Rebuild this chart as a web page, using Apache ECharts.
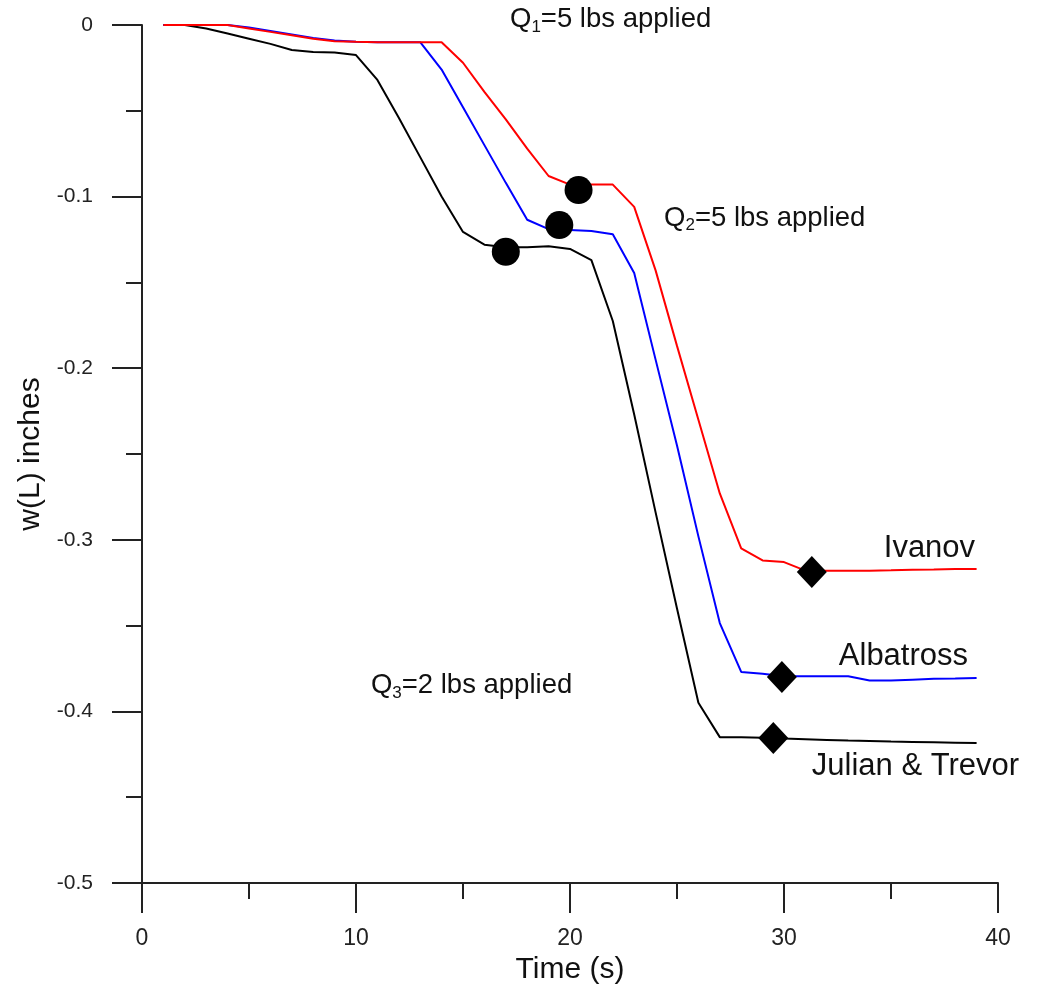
<!DOCTYPE html>
<html>
<head>
<meta charset="utf-8">
<script src="https://cdn.jsdelivr.net/npm/echarts@6/dist/echarts.min.js"></script>
<style>
  html, body { margin: 0; padding: 0; background: #fff; }
  #chart { width: 1051px; height: 992px; }
</style>
</head>
<body>
<div id="chart"></div>
<script>
// time in seconds
const time = [1, 2, 3, 4, 5, 6, 7, 8, 9, 10, 11, 12, 13, 14, 15, 16, 17, 18, 19, 20,
  21, 22, 23, 24, 25, 26, 27, 28, 29, 30, 31, 32, 33, 34, 35, 36, 37, 38, 39];

// deflection w(L) in inches
const ivanov = [0, 0, 0, 0, -0.002, -0.004, -0.006, -0.008, -0.0095, -0.0098,
  -0.010, -0.010, -0.010, -0.010, -0.022, -0.039, -0.055, -0.072, -0.088, -0.093,
  -0.093, -0.093, -0.106, -0.143, -0.187, -0.230, -0.273, -0.305, -0.312, -0.313,
  -0.318, -0.318, -0.318, -0.318, -0.3178, -0.3175, -0.3173, -0.317, -0.317];

const albatross = [0, 0, 0, 0, -0.0015, -0.0035, -0.0055, -0.0075, -0.009, -0.0097,
  -0.010, -0.010, -0.010, -0.026, -0.048, -0.070, -0.092, -0.1135, -0.119, -0.1195,
  -0.120, -0.122, -0.1445, -0.195, -0.245, -0.298, -0.3485, -0.377, -0.378, -0.3795,
  -0.3795, -0.3795, -0.3795, -0.382, -0.382, -0.3815, -0.381, -0.3808, -0.3805];

const julianTrevor = [0, 0, -0.002, -0.005, -0.008, -0.011, -0.0146, -0.0157, -0.016, -0.0175,
  -0.032, -0.054, -0.077, -0.100, -0.1206, -0.128, -0.1295, -0.1295, -0.129, -0.1305,
  -0.137, -0.1725, -0.227, -0.284, -0.340, -0.395, -0.415, -0.415, -0.4153, -0.4158,
  -0.4162, -0.4166, -0.417, -0.4173, -0.4176, -0.4178, -0.418, -0.4182, -0.4184];

// markers: [time, w] for Ivanov, Albatross, Julian & Trevor
const q2Points = [[20.4, -0.0962], [19.5, -0.1166], [17.0, -0.1322]];
const endPoints = [[31.3, -0.3188], [29.9, -0.380], [29.5, -0.4155]];

const xTickLabels = ['0', '10', '20', '30', '40'];
const yTickLabels = ['0', '-0.1', '-0.2', '-0.3', '-0.4', '-0.5'];

// annotations: [time, w, text, align]
const notes = [
  [21.9, 0.003, '{t|Q}{s|1}{t|=5 lbs applied}', 'center'],
  [29.1, -0.1125, '{t|Q}{s|2}{t|=5 lbs applied}', 'center'],
  [15.4, -0.385, '{t|Q}{s|3}{t|=2 lbs applied}', 'center'],
  [38.93, -0.3048, '{n|Ivanov}', 'right'],
  [38.6, -0.368, '{n|Albatross}', 'right'],
  [31.3, -0.432, '{n|Julian & Trevor}', 'left']
];

const FONT = "'Liberation Sans', Arial, sans-serif";
const AXIS_COLOR = '#222';
const TEXT_COLOR = '#111';

function zip(xs, ys) {
  return xs.map((x, i) => [x, ys[i]]);
}

const chart = echarts.init(document.getElementById('chart'));

chart.setOption({
  animation: false,
  backgroundColor: '#fff',
  grid: { left: 142, right: 53, top: 25, bottom: 109, containLabel: false },
  xAxis: {
    type: 'value', min: 0, max: 40, interval: 10,
    name: 'Time (s)', nameLocation: 'middle', nameGap: 69,
    nameTextStyle: { fontFamily: FONT, fontSize: 30, color: TEXT_COLOR },
    axisLine: { show: true, onZero: false, lineStyle: { color: AXIS_COLOR, width: 2 } },
    axisTick: { show: true, inside: false, length: 30, lineStyle: { color: AXIS_COLOR, width: 2 } },
    minorTick: { show: true, splitNumber: 2, length: 16, lineStyle: { color: AXIS_COLOR, width: 2 } },
    splitLine: { show: false },
    axisLabel: {
      margin: 44, fontFamily: FONT, fontSize: 23, color: '#222',
      formatter: v => xTickLabels[Math.round(v / 10)]
    }
  },
  yAxis: {
    type: 'value', min: -0.5, max: 0, interval: 0.1,
    name: 'w(L) inches', nameLocation: 'middle', nameGap: 91,
    nameTextStyle: { fontFamily: FONT, fontSize: 30, color: TEXT_COLOR },
    axisLine: { show: true, onZero: false, lineStyle: { color: AXIS_COLOR, width: 2 } },
    axisTick: { show: true, inside: false, length: 30, lineStyle: { color: AXIS_COLOR, width: 2 } },
    minorTick: { show: true, splitNumber: 2, length: 16, lineStyle: { color: AXIS_COLOR, width: 2 } },
    splitLine: { show: false },
    axisLabel: {
      margin: 49, fontFamily: FONT, fontSize: 21, color: '#222',
      formatter: v => yTickLabels[Math.round(-v * 10)]
    }
  },
  series: [
    {
      name: 'Julian & Trevor', type: 'line', data: zip(time, julianTrevor),
      symbol: 'none', lineStyle: { color: '#000', width: 2 }, z: 2
    },
    {
      name: 'Albatross', type: 'line', data: zip(time, albatross),
      symbol: 'none', lineStyle: { color: '#0000ff', width: 2 }, z: 2
    },
    {
      name: 'Ivanov', type: 'line', data: zip(time, ivanov),
      symbol: 'none', lineStyle: { color: '#ff0000', width: 2 }, z: 2
    },
    {
      type: 'scatter', data: q2Points, symbol: 'circle', symbolSize: 28,
      itemStyle: { color: '#000', opacity: 1 }, z: 5
    },
    {
      type: 'scatter', data: endPoints, symbol: 'diamond', symbolSize: [30, 32],
      itemStyle: { color: '#000', opacity: 1 }, z: 5
    },
    {
      type: 'scatter', clip: false, symbolSize: 0, z: 6, silent: true,
      itemStyle: { opacity: 1 },
      data: notes.map(n => ({
        value: [n[0], n[1]],
        label: {
          show: true, position: 'inside', formatter: n[2], align: n[3],
          verticalAlign: 'middle', color: TEXT_COLOR, opacity: 1,
          rich: {
            t: { fontFamily: FONT, fontSize: 27.5, color: TEXT_COLOR, lineHeight: 32, verticalAlign: 'middle' },
            s: { fontFamily: FONT, fontSize: 17, color: TEXT_COLOR, lineHeight: 18, verticalAlign: 'bottom' },
            n: { fontFamily: FONT, fontSize: 31, color: TEXT_COLOR, lineHeight: 34 }
          }
        }
      }))
    }
  ]
});
</script>
</body>
</html>
